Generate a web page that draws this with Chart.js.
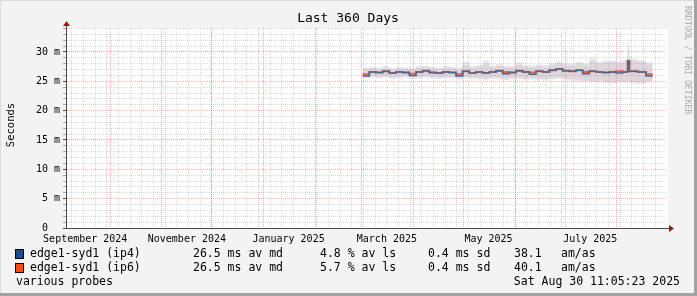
<!DOCTYPE html>
<html>
<head>
<meta charset="utf-8">
<script src="https://cdn.jsdelivr.net/npm/chart.js@4.4.0/dist/chart.umd.min.js"></script>
<style>
  html, body { margin: 0; padding: 0; background: #f3f3f3; }
  #wrap { width: 697px; height: 296px; }
</style>
</head>
<body>
<div id="wrap"><canvas id="chart" width="697" height="296"></canvas></div>
<script>
/* ---- data ---- */
const endTime = Date.UTC(2025, 7, 30, 11, 5, 23);
const spanDays = 360;

// sample days, counted from the start of the 360 day window
const sampleDays = [178,182,186,190,194,198,202,206,210,214,
                    218,222,226,230,234,238,242,246,250,254,
                    258,262,266,270,274,278,282,286,290,294,
                    298,302,306,310,314,318,322,326,330,334,
                    337,338,343,348,352];

// median rtt, ms
const ip4Median = [25.9,26.6,26.5,26.7,26.4,26.6,26.5,26.0,26.6,26.8,
                   26.5,26.4,26.6,26.5,25.9,26.7,26.4,26.6,26.4,26.6,
                   26.8,26.3,26.5,26.8,26.6,26.2,26.7,26.6,26.9,27.1,
                   26.8,26.7,26.9,26.3,26.7,26.6,26.5,26.6,26.4,26.6,
                   28.4,26.7,26.6,25.9,25.9];
const ip6Median = [26.2,26.6,26.5,26.7,26.4,26.6,26.5,26.3,26.6,26.8,
                   26.5,26.4,26.6,26.5,26.2,26.7,26.4,26.6,26.4,26.6,
                   26.8,26.6,26.5,26.8,26.6,26.5,26.7,26.6,26.9,27.1,
                   26.8,26.7,26.9,26.6,26.7,26.6,26.5,26.6,26.7,26.6,
                   28.5,26.7,26.6,26.2,26.2];

// smoke (min / max of the pings), ms
const ip4SmokeLow  = [25.5,25.6,25.5,25.6,25.4,25.5,25.6,25.4,25.5,25.6,
                      25.5,25.4,25.5,25.5,25.3,25.5,25.4,25.3,25.2,25.4,
                      25.3,25.2,25.3,25.4,25.2,25.3,25.2,25.1,25.3,25.4,
                      25.2,25.1,25.0,24.9,24.8,24.9,24.7,24.6,24.8,24.7,
                      24.9,24.6,24.5,24.8,24.8];
const ip4SmokeHigh = [27.3,27.5,27.4,27.6,27.3,27.5,27.4,27.3,27.6,27.7,
                      27.5,27.4,27.6,27.5,27.4,28.3,27.6,27.8,28.6,27.7,
                      27.9,27.7,27.6,28.2,27.8,27.7,27.9,27.8,28.1,28.4,
                      28.1,28.0,28.3,28.0,29.0,28.3,28.5,28.6,28.4,28.7,
                      31.4,28.9,28.6,28.2,28.2];
const ip6SmokeLow  = [25.8,25.9,25.8,25.9,25.7,25.8,25.9,25.7,25.8,25.9,
                      25.8,25.7,25.8,25.8,25.6,25.8,25.7,25.6,25.5,25.7,
                      25.6,25.5,25.6,25.7,25.5,25.6,25.5,25.4,25.6,25.7,
                      25.5,25.4,25.3,25.2,25.1,25.2,25.0,24.9,25.1,25.0,
                      25.2,24.9,24.8,25.1,25.1];
const ip6SmokeHigh = [27.1,27.2,27.1,27.3,27.0,27.2,27.1,27.0,27.3,27.4,
                      27.2,27.1,27.3,27.2,27.1,27.8,27.3,27.5,28.0,27.4,
                      27.6,27.4,27.3,27.8,27.5,27.4,27.6,27.5,27.8,28.0,
                      27.8,27.7,28.0,27.7,28.5,28.0,28.2,28.3,28.1,28.3,
                      30.2,28.5,28.3,27.9,27.9];

// x axis
const monthStarts = ['2024-10-01','2024-11-01','2024-12-01','2025-01-01','2025-02-01','2025-03-01',
                     '2025-04-01','2025-05-01','2025-06-01','2025-07-01','2025-08-01'];
const labelDates  = ['2024-09-16','2024-11-16','2025-01-16','2025-03-16','2025-05-16','2025-07-16'];
const labelNames  = ['September 2024','November 2024','January 2025','March 2025','May 2025','July 2025'];
const firstWeek   = '2024-09-08';

// y axis, ms
const yMax = 34.09;
const yMajorStep = 5;

// legend
const seriesNames = ['edge1-syd1 (ip4)', 'edge1-syd1 (ip6)'];
const avgMedian   = ['26.5 ms av md', '26.5 ms av md'];
const avgLoss     = ['4.8 % av ls', '5.7 % av ls'];
const stdDev      = ['0.4 ms sd', '0.4 ms sd'];
const amAs        = ['38.1', '40.1'];

/* ---- helpers ---- */
const startTime = endTime - spanDays * 86400000;
function dayOf(iso) {
    const p = iso.split('-').map(Number);
    return (Date.UTC(p[0], p[1] - 1, p[2]) - startTime) / 86400000;
}
function pts(values) {
    return sampleDays.map((d, i) => ({ x: d, y: values[i] }));
}

const weekDays = [];
for (let d = dayOf(firstWeek); d < spanDays; d += 7) weekDays.push(d);
const monthDays = monthStarts.map(dayOf);
const labelDays = labelDates.map(dayOf);

const MONO = '"DejaVu Sans Mono", monospace';
const GRID_MINOR = 'rgba(128,128,128,0.30)';
const GRID_MAJOR = 'rgba(255,0,0,0.33)';
const AXIS = '#4a4a4a';
const ARROW = '#a01818';
const CLEAR = 'rgba(0,0,0,0)';

/* ---- frame, title, legend ---- */
const rrdDecor = {
    id: 'rrdDecor',
    beforeDraw(chart) {
        const ctx = chart.ctx;
        const a = chart.chartArea;
        ctx.save();
        ctx.fillStyle = '#f3f3f3';
        ctx.fillRect(0, 0, 697, 296);
        ctx.fillStyle = '#dcdcdc';
        ctx.fillRect(0, 0, 697, 1);
        ctx.fillRect(0, 0, 1, 296);
        ctx.fillStyle = '#a2a2a2';
        ctx.fillRect(694, 0, 3, 296);
        ctx.fillRect(0, 293, 697, 3);
        ctx.fillStyle = '#ffffff';
        ctx.fillRect(a.left, a.top, a.right - a.left + 2, a.bottom - a.top);
        ctx.restore();
    },
    afterDraw(chart) {
        const ctx = chart.ctx;
        const a = chart.chartArea;
        ctx.save();

        // axis extensions + arrows
        ctx.strokeStyle = AXIS;
        ctx.lineWidth = 1;
        ctx.beginPath();
        ctx.moveTo(a.left + 0.5, a.top);
        ctx.lineTo(a.left + 0.5, a.top - 4);
        ctx.moveTo(a.right, a.bottom + 0.5);
        ctx.lineTo(a.right + 4, a.bottom + 0.5);
        ctx.stroke();
        ctx.fillStyle = ARROW;
        ctx.beginPath();
        ctx.moveTo(a.left + 0.5, a.top - 7);
        ctx.lineTo(a.left - 3, a.top - 2);
        ctx.lineTo(a.left + 4, a.top - 2);
        ctx.closePath();
        ctx.fill();
        ctx.beginPath();
        ctx.moveTo(a.right + 8, a.bottom + 0.5);
        ctx.lineTo(a.right + 3, a.bottom - 3);
        ctx.lineTo(a.right + 3, a.bottom + 4);
        ctx.closePath();
        ctx.fill();

        // title
        ctx.fillStyle = '#000';
        ctx.textBaseline = 'middle';
        ctx.textAlign = 'center';
        ctx.font = '13px ' + MONO;
        ctx.fillText('Last 360 Days', 348, 19);

        // y title
        ctx.save();
        ctx.translate(11, 125);
        ctx.rotate(-Math.PI / 2);
        ctx.font = '10.5px ' + MONO;
        ctx.fillText('Seconds', 0, 0);
        ctx.restore();

        // watermark
        ctx.save();
        ctx.translate(687, 6);
        ctx.rotate(Math.PI / 2);
        ctx.textAlign = 'left';
        ctx.fillStyle = '#a8a8a8';
        ctx.font = '8.2px ' + MONO;
        ctx.fillText('RRDTOOL / TOBI OETIKER', 0, 0);
        ctx.restore();

        // legend
        const colours = [chart.data.datasets[4].borderColor, chart.data.datasets[5].borderColor];
        ctx.font = '11.5px ' + MONO;
        ctx.textAlign = 'left';
        for (let i = 0; i < 2; i++) {
            const y = 254 + i * 14;
            ctx.fillStyle = '#000';
            ctx.fillRect(15, y - 5, 9, 10);
            ctx.fillStyle = colours[i];
            ctx.fillRect(16, y - 4, 7, 8);
            ctx.fillStyle = '#000';
            ctx.fillText(seriesNames[i], 30, y);
            ctx.fillText(avgMedian[i], 193, y);
            ctx.fillText(avgLoss[i], 320, y);
            ctx.fillText(stdDev[i], 428, y);
            ctx.fillText(amAs[i], 514, y);
            ctx.fillText('am/as', 561, y);
        }
        ctx.fillText('various probes', 16, 282);
        ctx.textAlign = 'right';
        ctx.fillText('Sat Aug 30 11:05:23 2025', 680, 282);
        ctx.restore();
    }
};

/* ---- chart ---- */
const smoke = (label, values, fill, color) => ({
    label, data: pts(values), stepped: true, pointRadius: 0,
    borderWidth: 0, borderColor: CLEAR, backgroundColor: color, fill
});

// one bottom axis per kind of vertical line, all sharing the same range
function timeAxis(days, gridColor, extra) {
    return Object.assign({
        type: 'linear',
        position: 'bottom',
        min: 0,
        max: spanDays,
        afterBuildTicks: s => { s.ticks = days.map(v => ({ value: v })); },
        afterFit: s => { s.height = 0; },
        ticks: { display: false, autoSkip: false },
        grid: { display: true, drawTicks: false, lineWidth: 1, color: gridColor },
        border: { display: false, dash: [1, 1] }
    }, extra || {});
}

new Chart(document.getElementById('chart'), {
    type: 'line',
    data: {
        datasets: [
            smoke('ip4 low', ip4SmokeLow, false, CLEAR),
            smoke('ip4 high', ip4SmokeHigh, '-1', 'rgba(130,150,180,0.20)'),
            smoke('ip6 low', ip6SmokeLow, false, CLEAR),
            smoke('ip6 high', ip6SmokeHigh, '-1', 'rgba(215,140,130,0.22)'),
            { label: seriesNames[0], data: pts(ip4Median), stepped: true, pointRadius: 0,
              borderWidth: 1.5, borderColor: '#144e8c', fill: false },
            { label: seriesNames[1], data: pts(ip6Median), stepped: true, pointRadius: 0,
              borderWidth: 2, borderColor: '#ff4a10', fill: false }
        ]
    },
    options: {
        responsive: false,
        animation: false,
        events: [],
        layout: { padding: { left: 0, top: 28, right: 31, bottom: 0 } },
        plugins: { legend: { display: false }, tooltip: { enabled: false }, title: { display: false } },
        scales: {
            x: timeAxis(weekDays, GRID_MINOR, {
                border: { display: true, color: AXIS, width: 1, dash: [1, 1] }
            }),
            xMonth: timeAxis(monthDays, GRID_MAJOR),
            xLabel: timeAxis(labelDays, CLEAR, {
                afterFit: s => { s.height = 68; },
                grid: { display: false, drawTicks: false },
                ticks: {
                    display: true,
                    autoSkip: false,
                    maxRotation: 0,
                    padding: 5,
                    color: '#000',
                    font: { family: MONO, size: 10 },
                    callback: (v, i) => labelNames[i]
                }
            }),
            y: {
                min: 0,
                max: yMax,
                afterBuildTicks: s => {
                    const t = [];
                    for (let v = 0; v <= yMax; v++) t.push({ value: v });
                    s.ticks = t;
                },
                afterFit: s => { s.width = 66; },
                ticks: {
                    autoSkip: false,
                    padding: 3,
                    color: '#000',
                    font: { family: MONO, size: 10 },
                    callback: v => v % yMajorStep === 0 ? (v === 0 ? '0  ' : v + ' m') : ''
                },
                grid: {
                    lineWidth: 1,
                    tickLength: 3,
                    color: c => c.tick && c.tick.value % yMajorStep === 0 && c.tick.value > 0 ? GRID_MAJOR : GRID_MINOR,
                    tickColor: c => c.tick && c.tick.value % yMajorStep === 0 ? AXIS : '#aaa'
                },
                border: { display: true, color: AXIS, width: 1, dash: [1, 1] }
            }
        }
    },
    plugins: [rrdDecor]
});
</script>
</body>
</html>
